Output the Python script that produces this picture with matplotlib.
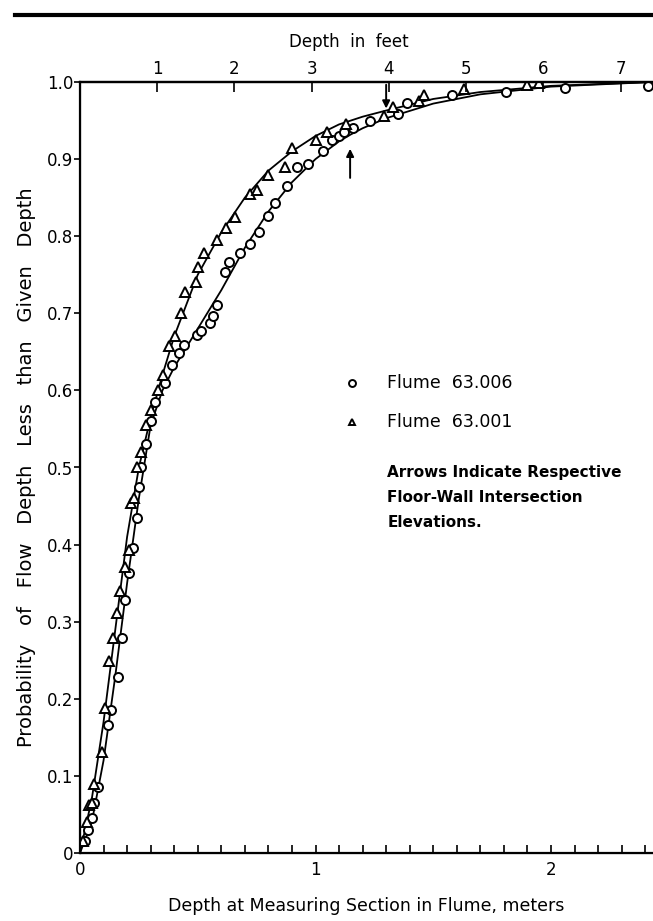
import numpy as np
import matplotlib
matplotlib.use("Agg")
import matplotlib.pyplot as plt
from matplotlib.lines import Line2D

# Flume 63.006 (circles): depth in meters, probability
circ_x = [0.02, 0.035, 0.05, 0.06, 0.078, 0.118, 0.132, 0.163, 0.177, 0.192,
          0.207, 0.224, 0.242, 0.25, 0.26, 0.28, 0.30, 0.318, 0.36, 0.391,
          0.419, 0.443, 0.498, 0.512, 0.552, 0.566, 0.583, 0.617, 0.633, 0.679,
          0.72, 0.76, 0.80, 0.83, 0.88, 0.92, 0.97, 1.03, 1.07, 1.10, 1.12,
          1.16, 1.23, 1.35, 1.39, 1.58, 1.81, 2.06, 2.41]
circ_y = [0.015, 0.03, 0.045, 0.065, 0.086, 0.166, 0.185, 0.228, 0.279, 0.328,
          0.363, 0.395, 0.435, 0.475, 0.50, 0.53, 0.56, 0.585, 0.609, 0.633,
          0.648, 0.659, 0.672, 0.677, 0.688, 0.696, 0.711, 0.753, 0.767, 0.778,
          0.79, 0.806, 0.826, 0.843, 0.865, 0.89, 0.893, 0.91, 0.925, 0.93, 0.935,
          0.94, 0.95, 0.958, 0.973, 0.983, 0.987, 0.992, 0.995]

# Flume 63.001 (triangles)
tri_x = [0.013, 0.03, 0.04, 0.05, 0.059, 0.092, 0.106, 0.125, 0.139, 0.156,
         0.171, 0.192, 0.207, 0.217, 0.23, 0.24, 0.26, 0.28, 0.30, 0.33,
         0.354, 0.376, 0.402, 0.429, 0.444, 0.491, 0.502, 0.528, 0.58, 0.62,
         0.66, 0.72, 0.75, 0.80, 0.87, 0.90, 1.0, 1.05, 1.13, 1.29, 1.33,
         1.44, 1.46, 1.63, 1.90, 1.95]
tri_y = [0.016, 0.04, 0.062, 0.065, 0.089, 0.131, 0.188, 0.249, 0.279, 0.311,
         0.340, 0.371, 0.393, 0.454, 0.46, 0.50, 0.52, 0.555, 0.575, 0.60,
         0.620, 0.657, 0.671, 0.701, 0.727, 0.740, 0.760, 0.778, 0.795, 0.81,
         0.825, 0.855, 0.86, 0.88, 0.89, 0.915, 0.925, 0.935, 0.945, 0.956, 0.967,
         0.976, 0.983, 0.991, 0.996, 0.999]

# hand-drawn fitted curves
tri_curve_x = [0, 0.05, 0.1, 0.15, 0.2, 0.25, 0.3, 0.35, 0.4, 0.45, 0.5, 0.6,
               0.7, 0.8, 0.9, 1.0, 1.1, 1.2, 1.3, 1.5, 1.7, 2.0, 2.43]
tri_curve_y = [0, 0.07, 0.17, 0.29, 0.41, 0.50, 0.565, 0.62, 0.67, 0.71, 0.75, 0.805,
               0.85, 0.885, 0.91, 0.93, 0.945, 0.955, 0.963, 0.978, 0.987, 0.995, 1.0]
circ_curve_x = [0, 0.05, 0.1, 0.15, 0.2, 0.25, 0.3, 0.35, 0.4, 0.45, 0.5, 0.6,
                0.7, 0.8, 0.9, 1.0, 1.1, 1.15, 1.2, 1.3, 1.5, 1.7, 2.0, 2.43]
circ_curve_y = [0, 0.04, 0.12, 0.23, 0.35, 0.46, 0.555, 0.60, 0.63, 0.655, 0.68, 0.73,
                0.785, 0.832, 0.87, 0.90, 0.923, 0.932, 0.94, 0.953, 0.972, 0.984, 0.994, 1.0]

y_ticks = [0, 0.1, 0.2, 0.3, 0.4, 0.5, 0.6, 0.7, 0.8, 0.9, 1.0]
y_labels = ["0", "0.1", "0.2", "0.3", "0.4", "0.5", "0.6", "0.7", "0.8", "0.9", "1.0"]
feet_ticks = [1, 2, 3, 4, 5, 6, 7]
m_per_ft = 0.328  # as drawn on the original scale
note_lines = ["Arrows Indicate Respective", "Floor-Wall Intersection", "Elevations."]

fig = plt.figure(figsize=(6.53, 9.21), dpi=100)
ax = fig.add_axes([80 / 653, 68 / 921, 573 / 653, 771 / 921])

ax.plot(tri_curve_x, tri_curve_y, color="black", lw=1.3)
ax.plot(circ_curve_x, circ_curve_y, color="black", lw=1.3)
ax.plot(circ_x, circ_y, "o", ms=6.5, mfc="white", mec="black", mew=1.4, zorder=3)
ax.plot(tri_x, tri_y, "^", ms=6.5, mfc="white", mec="black", mew=1.4, zorder=3)

# arrows for floor-wall intersection
ax.annotate("", xy=(1.30, 0.962), xytext=(1.30, 1.0),
            arrowprops=dict(arrowstyle="-|>", color="black", lw=1.4, mutation_scale=11))
ax.annotate("", xy=(1.147, 0.917), xytext=(1.147, 0.872),
            arrowprops=dict(arrowstyle="-|>", color="black", lw=1.4, mutation_scale=11))

xmax = 573 / 235.5
ax.set_xlim(0, xmax)
ax.set_ylim(0, 1.0)
ax.set_yticks(y_ticks)
ax.set_yticklabels(y_labels)
ax.set_xticks([0, 1, 2])
ax.set_xticklabels(["0", "1", "2"])
ax.set_xticks(np.arange(0.1, 2.45, 0.1), minor=True)
ax.tick_params(axis="x", which="both", direction="in", length=6, width=1.2, labelsize=12, pad=6)
ax.tick_params(axis="y", direction="out", length=4, width=1.2, labelsize=12, pad=1)
for s in ["left", "bottom", "top"]:
    ax.spines[s].set_linewidth(1.6)
ax.spines["right"].set_visible(False)

ax2 = ax.twiny()
ax2.set_xlim(0, xmax / m_per_ft)
ax2.set_xticks(feet_ticks)
ax2.set_xticklabels([str(f) for f in feet_ticks])
ax2.tick_params(axis="x", direction="in", length=7, width=1.2, labelsize=12, pad=3)
ax2.spines["right"].set_visible(False)
ax2.spines["top"].set_linewidth(1.6)

ax.set_xlabel("Depth at Measuring Section in Flume, meters", fontsize=12.5, labelpad=13)
ax.set_ylabel("Probability   of   Flow   Depth   Less   than   Given   Depth",
              fontsize=14, labelpad=8)
fig.text(349 / 653, 1 - 42 / 921, "Depth  in  feet", ha="center", va="center", fontsize=12)

# legend / note
ax.plot([0.475], [0.6096], "o", ms=5, mfc="white", mec="black", mew=1.4, transform=ax.transAxes)
ax.plot([0.475], [0.559], "^", ms=5, mfc="white", mec="black", mew=1.4, transform=ax.transAxes)
ax.text(0.536, 0.6096, "Flume  63.006", transform=ax.transAxes, va="center", fontsize=12.5)
ax.text(0.536, 0.559, "Flume  63.001", transform=ax.transAxes, va="center", fontsize=12.5)
for i, line in enumerate(note_lines):
    ax.text(0.536, 0.494 - i * 0.0325, line, transform=ax.transAxes, va="center",
            fontsize=11, fontweight="bold")

# rule at top of page
fig.add_artist(Line2D([15 / 653, 1.0], [1 - 15 / 921, 1 - 15 / 921], color="black", lw=3))

fig.savefig("out.png", dpi=100)
